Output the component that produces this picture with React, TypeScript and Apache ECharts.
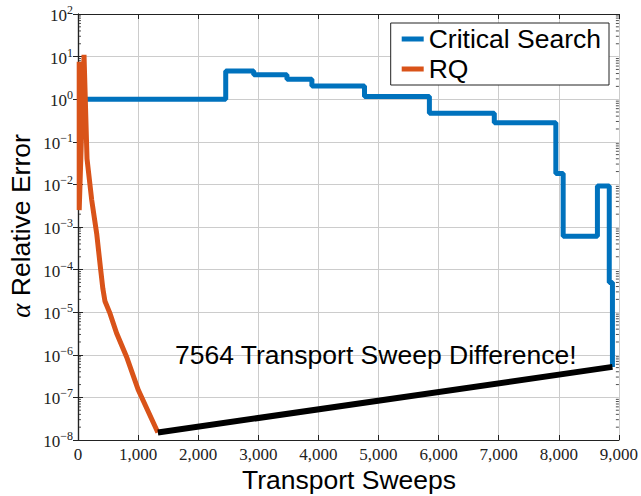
import React, { useEffect, useRef } from "react";
import * as echarts from "echarts";

// Critical Search (step line): sweep where the value starts, relative error
const csSweeps = [100, 2458, 2924, 3477, 3892, 4767, 5847, 6927, 7951, 8073, 8643, 8840, 8893];
const csError = [1, 4.6, 3.76, 2.93, 2.04, 1.15, 0.47, 0.28, 0.018, 6.1e-4, 0.0092, 5e-5, 5.2e-7];

// RQ
const rqSweeps = [20, 20, 100, 150, 228, 311, 377, 413, 449, 532, 643, 809, 1002, 1329];
const rqError = [7.6, 2.5e-3, 11, 0.04, 4.3e-3, 7e-4, 1e-4, 3.6e-5, 1.8e-5, 9.4e-6, 3.2e-6, 8.9e-7, 1.5e-7, 1.5e-8];

// Difference line
const diffSweeps = [1329, 8893];
const diffError = [1.5e-8, 5.2e-7];

// Axes
const xMin = 0;
const xMax = 9000;
const xStep = 1000;
const yMin = 1e-8;
const yMax = 1e2;
const minorDecades = [-8, -7, -6, -5, -4, -3, -2, -1, 0, 1];
const minorMultipliers = [2, 3, 4, 5, 6, 7, 8, 9];

const annotation = "7564 Transport Sweep Difference!";
const xTitle = "Transport Sweeps";

const SANS = "'Liberation Sans', Arial, sans-serif";
const SERIF = "'Liberation Serif', 'Times New Roman', serif";

export default function App() {
  const ref = useRef<HTMLDivElement>(null);
  useEffect(() => {
    if (!ref.current) return;
    const chart = echarts.init(ref.current, null, { renderer: "svg" });
    const minorTicks: number[][] = [];
    minorDecades.forEach((d) =>
      minorMultipliers.forEach((m) => minorTicks.push([0, m * Math.pow(10, d)]))
    );
    const grid = { left: 78, right: 21, top: 14, bottom: 56 };
    const yLabel = (v: number) => {
      const e = Math.round(Math.log10(v));
      const s = e < 0 ? "\u2212" + Math.abs(e) : String(e);
      return `{b|10}{s|${s}}`;
    };
    const yRich = {
      b: { fontSize: 17, fontFamily: SERIF, color: "#222", verticalAlign: "bottom" },
      s: { fontSize: 12, fontFamily: SERIF, color: "#222", verticalAlign: "bottom", padding: [0, 0, 8, 0] },
    };
    const gridLine = { show: true, lineStyle: { color: "#cccccc", width: 1 } };
    const axisLine = { show: true, lineStyle: { color: "#222", width: 1.2 } };
    chart.setOption({
      animation: false,
      backgroundColor: "#fff",
      grid,
      legend: {
        data: ["Critical Search", "RQ"],
        orient: "vertical",
        right: 32,
        top: 23,
        icon: "rect",
        itemWidth: 22,
        itemHeight: 5,
        itemGap: 2,
        padding: [2, 8, 2, 11],
        backgroundColor: "#fff",
        borderColor: "#222",
        borderWidth: 1,
        borderRadius: 0,
        textStyle: { fontSize: 26.5, fontFamily: SANS, color: "#000", lineHeight: 28 },
      },
      xAxis: [
        {
          type: "value",
          min: xMin,
          max: xMax,
          interval: xStep,
          position: "bottom",
          axisLine,
          axisTick: { show: true, inside: true, length: 5, lineStyle: { color: "#222" } },
          axisLabel: {
            margin: 6,
            fontSize: 17,
            fontFamily: SERIF,
            color: "#222",
            formatter: (v: number) => v.toLocaleString("en-US"),
          },
          splitLine: gridLine,
        },
        {
          type: "value",
          min: xMin,
          max: xMax,
          interval: xStep,
          position: "top",
          axisLine,
          axisTick: { show: true, inside: true, length: 5, lineStyle: { color: "#222" } },
          axisLabel: { show: false },
          splitLine: { show: false },
        },
      ],
      yAxis: [
        {
          type: "log",
          logBase: 10,
          min: yMin,
          max: yMax,
          interval: 1,
          splitNumber: 10,
          position: "left",
          axisLine,
          axisTick: { show: true, inside: true, length: 5, lineStyle: { color: "#222" } },
          axisLabel: { margin: 5, formatter: yLabel, rich: yRich },
          splitLine: gridLine,
        },
        {
          type: "log",
          logBase: 10,
          min: yMin,
          max: yMax,
          interval: 1,
          splitNumber: 10,
          position: "right",
          axisLine,
          axisTick: { show: true, inside: true, length: 5, lineStyle: { color: "#222" } },
          axisLabel: { show: false },
          splitLine: { show: false },
        },
      ],
      graphic: [
        {
          type: "text",
          left: 175,
          top: 341,
          z: 50,
          style: { text: annotation, font: `26.5px ${SANS}`, fill: "#000" },
        },
        {
          type: "text",
          x: 349,
          y: 480,
          style: {
            text: xTitle,
            font: `26.5px ${SANS}`,
            fill: "#000",
            align: "center",
            verticalAlign: "middle",
          },
        },
        {
          type: "text",
          x: 21,
          y: 226,
          rotation: Math.PI / 2,
          style: {
            text: "{a|\u03b1} Relative Error",
            font: `26.5px ${SANS}`,
            fill: "#000",
            align: "center",
            verticalAlign: "middle",
            rich: {
              a: { font: `italic 27px ${SERIF}`, fill: "#000" },
            },
          },
        },
      ],
      series: [
        {
          type: "custom",
          silent: true,
          z: 1,
          data: minorTicks,
          renderItem: (params: any, api: any) => {
            const v = api.value(1);
            const cs = params.coordSys;
            const y = api.coord([0, v])[1];
            return {
              type: "group",
              children: [
                { type: "line", shape: { x1: cs.x, y1: y, x2: cs.x + 3, y2: y }, style: { stroke: "#222", lineWidth: 0.8 } },
                { type: "line", shape: { x1: cs.x + cs.width - 3, y1: y, x2: cs.x + cs.width, y2: y }, style: { stroke: "#222", lineWidth: 0.8 } },
              ],
            };
          },
        },
        {
          name: "Critical Search",
          type: "line",
          step: "end",
          showSymbol: false,
          z: 3,
          data: csSweeps.map((x, i) => [x, csError[i]]),
          lineStyle: { color: "#0072BD", width: 5 },
          itemStyle: { color: "#0072BD" },
        },
        {
          name: "RQ",
          type: "line",
          showSymbol: false,
          z: 4,
          data: rqSweeps.map((x, i) => [x, rqError[i]]),
          lineStyle: { color: "#D95319", width: 5, join: "miter" },
          itemStyle: { color: "#D95319" },
        },
        {
          name: "diff",
          type: "line",
          showSymbol: false,
          z: 5,
          data: diffSweeps.map((x, i) => [x, diffError[i]]),
          lineStyle: { color: "#000", width: 6 },
          itemStyle: { color: "#000" },
        },
      ],
    });
    return () => chart.dispose();
  }, []);
  return <div ref={ref} style={{ width: 641, height: 496, position: "absolute", left: 0, top: 0 }} />;
}
